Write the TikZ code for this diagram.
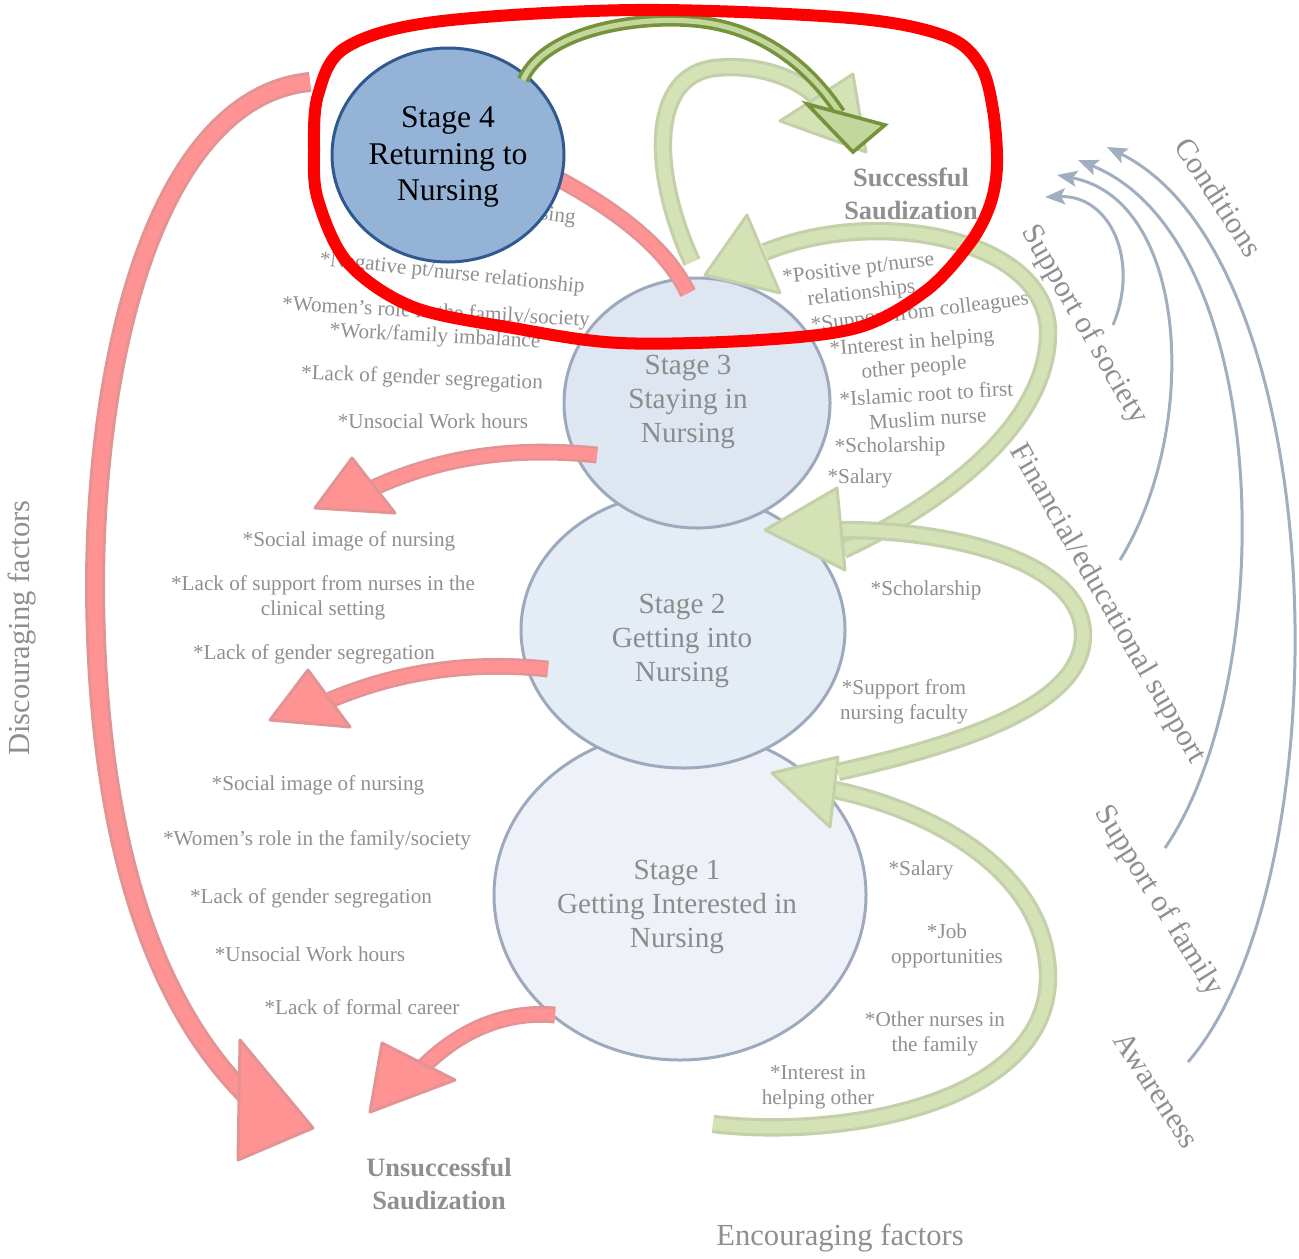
\documentclass[tikz,border=0pt]{standalone}
\usepackage{fontspec}
\setmainfont{Liberation Serif}
\usetikzlibrary{shapes.geometric,arrows.meta}
\definecolor{lblgray}{HTML}{8F8F8F}
\definecolor{stgray}{HTML}{8C8C8C}
\definecolor{stborder}{HTML}{9DAABD}
\definecolor{sfourfill}{HTML}{95B3D7}
\definecolor{sfourborder}{HTML}{2F5A8F}
\definecolor{sthreefill}{HTML}{DDE6F1}
\definecolor{stwofill}{HTML}{E4ECF6}
\definecolor{sonefill}{HTML}{EEF2F8}
\definecolor{pinkfill}{HTML}{FF9393}
\definecolor{pinkedge}{HTML}{E29393}
\definecolor{grfill}{HTML}{D4E2B5}
\definecolor{gredge}{HTML}{C4D0A9}
\definecolor{dkgreen}{HTML}{76933C}
\definecolor{dkgrfill}{HTML}{C3D69B}
\definecolor{connclr}{HTML}{A0AEC0}
\definecolor{hired}{HTML}{FF0000}
\begin{document}
\begin{tikzpicture}[x=0.5pt,y=-0.5pt,
  lbl/.style={text=lblgray, font=\fontsize{10.6}{12.4}\selectfont, align=center, inner sep=0pt},
  sttxt/.style={text=stgray, font=\fontsize{14.6}{16.8}\selectfont, align=center, inner sep=0pt},
  bigtxt/.style={text=lblgray, font=\fontsize{15.3}{18}\selectfont, inner sep=0pt},
  boldtxt/.style={text=lblgray, font=\bfseries\fontsize{13.2}{16.5}\selectfont, align=center, inner sep=0pt},
  stageell/.style={ellipse, draw=stborder, line width=1.5pt, inner sep=0pt},
  pinkband/.style={draw=pinkedge, double=pinkfill, line width=1.3pt, double distance=5.8pt},
  pinkhead/.style={draw=pinkedge, fill=pinkfill, line width=1.5pt, line join=round},
  greenband/.style={draw=gredge, double=grfill, line width=1.6pt, double distance=6pt},
  greenhead/.style={draw=gredge, fill=grfill, line width=1.5pt, line join=round},
  darkband/.style={draw=dkgreen, double=dkgrfill, line width=1.8pt, double distance=2.6pt},
  darkhead/.style={draw=dkgreen, fill=dkgrfill, line width=1.8pt, line join=miter},
  grayconn/.style={draw=connclr, line width=1.5pt, -{Stealth[length=10pt,width=8pt,inset=2pt]}}
]
\useasboundingbox (0,0) rectangle (1299,1258);

% stage ellipses 1-3
\node[stageell, fill=sonefill, minimum width=186pt, minimum height=165pt] (s1) at (680,895) {};
\node[stageell, fill=stwofill, minimum width=162pt, minimum height=138pt] (s2) at (683,630) {};
\node[stageell, fill=sthreefill, minimum width=133pt, minimum height=125pt] (s3) at (697,403) {};

% labels around stage 3 (left)
\node[lbl, rotate=-7] (lhid) at (470,206) {*Social image of nursing};
\node[lbl, rotate=-6] (l31) at (452,274) {*Negative pt/nurse relationship};
\node[lbl, rotate=-3] (l32) at (436,313) {*Women’s role in the family/society};
\node[lbl, rotate=-3] (l33) at (435,337) {*Work/family imbalance};
\node[lbl, rotate=-2.4] (l34) at (422,379) {*Lack of gender segregation};
\node[lbl] (l35) at (433,421) {*Unsocial Work hours};
% labels stage 3 (right)
\node[lbl, rotate=7] (r31) at (860,282) {*Positive pt/nurse\\relationships};
\node[lbl, rotate=7] (r32) at (920,313) {*Support from colleagues};
\node[lbl, rotate=5] (r33) at (913,356) {*Interest in helping\\other people};
\node[lbl, rotate=3.5] (r34) at (927,406) {*Islamic root to first\\Muslim nurse};
\node[lbl, rotate=1] (r35) at (890,447) {*Scholarship};
\node[lbl] (r36) at (860,478) {*Salary};
% labels stage 2
\node[lbl] (l21) at (349,541) {*Social image of nursing};
\node[lbl] (l22) at (323,598) {*Lack of support from nurses in the\\clinical setting};
\node[lbl] (l23) at (314,654) {*Lack of gender segregation};
\node[lbl] (r21) at (926,590) {*Scholarship};
\node[lbl] (r22) at (904,702) {*Support from\\nursing faculty};
% labels stage 1
\node[lbl] (l11) at (318,785) {*Social image of nursing};
\node[lbl] (l12) at (317,840) {*Women’s role in the family/society};
\node[lbl] (l13) at (311,898) {*Lack of gender segregation};
\node[lbl] (l14) at (310,954) {*Unsocial Work hours};
\node[lbl] (l15) at (362,1007) {*Lack of formal career};
\node[lbl] (r11) at (921,870) {*Salary};
\node[lbl] (r12) at (947,946) {*Job\\opportunities};
\node[lbl] (r13) at (935,1034) {*Other nurses in\\the family};
\node[lbl] (r14) at (818,1087) {*Interest in\\helping other};

% outcome labels
\node[boldtxt] (succ) at (911,194) {Successful\\Saudization};
\node[boldtxt] (unsucc) at (439,1184) {Unsuccessful\\Saudization};

% pink (discouraging) arrows
\coordinate (pa0) at (310,82); \coordinate (pa1) at (248,1097);
\draw[pinkband, line width=1.5pt, double distance=7pt] (pa0) .. controls (170,95) and (97,320) .. (95,580) .. controls (95,830) and (150,1000) .. (pa1);
\draw[pinkhead] (240,1040) -- (313,1128) -- (238,1160) -- cycle;

\coordinate (pb0) at (597,455); \coordinate (pb1) at (373,488);
\draw[pinkband] (pb0) .. controls (500,445) and (430,462) .. (pb1);
\draw[pinkhead] (352,458) -- (315,508) -- (395,513) -- cycle;

\coordinate (pc0) at (548,669); \coordinate (pc1) at (330,700);
\draw[pinkband] (pc0) .. controls (460,660) and (390,675) .. (pc1);
\draw[pinkhead] (308,670) -- (270,720) -- (350,727) -- cycle;

\coordinate (pd0) at (555,1015); \coordinate (pd1) at (423,1067);
\draw[pinkband] (pd0) .. controls (500,1010) and (455,1035) .. (pd1);
\draw[pinkhead] (382,1043) -- (370,1112) -- (455,1080) -- cycle;

\coordinate (pe0) at (545,172); \coordinate (pe1) at (688,293);
\draw[pinkband] (pe0) .. controls (610,205) and (665,245) .. (pe1);

% green (encouraging) loops
\coordinate (gc0) at (843,550); \coordinate (gc1) at (765,252);
\draw[greenband] (gc0) .. controls (950,500) and (1050,420) .. (1048,330) .. controls (1045,240) and (880,205) .. (gc1);
\draw[greenhead] (747,215) -- (705,275) -- (780,293) -- cycle;

\coordinate (ga0) at (713,1124); \coordinate (ga1) at (835,790);
\draw[greenband] (ga0) .. controls (850,1140) and (1050,1100) .. (1048,975) .. controls (1046,870) and (930,810) .. (ga1);
\draw[greenhead] (838,757) -- (772,773) -- (830,827) -- cycle;

\coordinate (gb0) at (838,772); \coordinate (gb1) at (842,530);
\draw[greenband] (gb0) .. controls (980,740) and (1085,700) .. (1083,633) .. controls (1080,560) and (950,530) .. (gb1);
\draw[greenhead] (837,488) -- (765,530) -- (845,570) -- cycle;

\coordinate (gd0) at (692,262); \coordinate (gd1) at (816,97);
\draw[greenband] (gd0) .. controls (650,170) and (650,75) .. (715,68) .. controls (760,63) and (800,80) .. (gd1);
\draw[greenhead] (780,121) -- (853,74) -- (866,152) -- cycle;

% stage 4
\node[ellipse, draw=sfourborder, fill=sfourfill, line width=1.5pt, inner sep=0pt, minimum width=116pt, minimum height=107pt] (s4) at (448,155) {};

\coordinate (ge0) at (523,80); \coordinate (ge1) at (840,113);
\draw[darkband] (ge0) .. controls (545,30) and (640,15) .. (700,22) .. controls (770,30) and (815,75) .. (ge1);
\draw[darkhead] (807,104) -- (885,125) -- (853,152) -- cycle;

% stage texts
\node[text=black, font=\fontsize{15.8}{18.3}\selectfont, align=center, inner sep=0pt] (t4) at (448,157) {Stage 4\\Returning to\\Nursing};
\node[sttxt] (t3) at (688,402) {Stage 3\\Staying in\\Nursing};
\node[sttxt] (t2) at (682,641) {Stage 2\\Getting into\\Nursing};
\node[sttxt] (t1) at (677,907) {Stage 1\\Getting Interested in\\Nursing};

% gray condition arrows
\coordinate (c1a) at (1113,325); \coordinate (c1b) at (1045,197);
\coordinate (c2a) at (1120,560); \coordinate (c2b) at (1057,175);
\coordinate (c3a) at (1165,848); \coordinate (c3b) at (1078,160);
\coordinate (c4a) at (1188,1062); \coordinate (c4b) at (1107,147);
\draw[grayconn] (c1a) .. controls (1140,260) and (1110,195) .. (c1b);
\draw[grayconn] (c2a) .. controls (1200,430) and (1190,200) .. (c2b);
\draw[grayconn] (c3a) .. controls (1280,680) and (1275,240) .. (c3b);
\draw[grayconn] (c4a) .. controls (1345,880) and (1335,260) .. (c4b);

% rotated labels
\node[bigtxt, rotate=-57] (cond) at (1219,197) {Conditions};
\node[bigtxt, rotate=-60] (soc) at (1084,325) {Support of society};
\node[bigtxt, rotate=-60] (fin) at (1107,604) {Financial/educational support};
\node[bigtxt, rotate=-58] (fam) at (1158,901) {Support of family};
\node[bigtxt, rotate=-57] (awa) at (1157,1090) {Awareness};
\node[bigtxt, rotate=90] (disc) at (22,628) {Discouraging factors};
\node[bigtxt] (enc) at (840,1238) {Encouraging factors};

% red highlight
\draw[hired, line width=6pt] plot[smooth cycle, tension=0.55] coordinates {(314,150) (318,95) (345,48) (434,22) (635,10) (850,18) (945,36) (980,65) (993,110) (997,165) (990,205) (970,243) (927,290) (860,327) (760,340) (620,343) (513,328) (413,307) (348,263) (318,200)};
\end{tikzpicture}
\end{document}
